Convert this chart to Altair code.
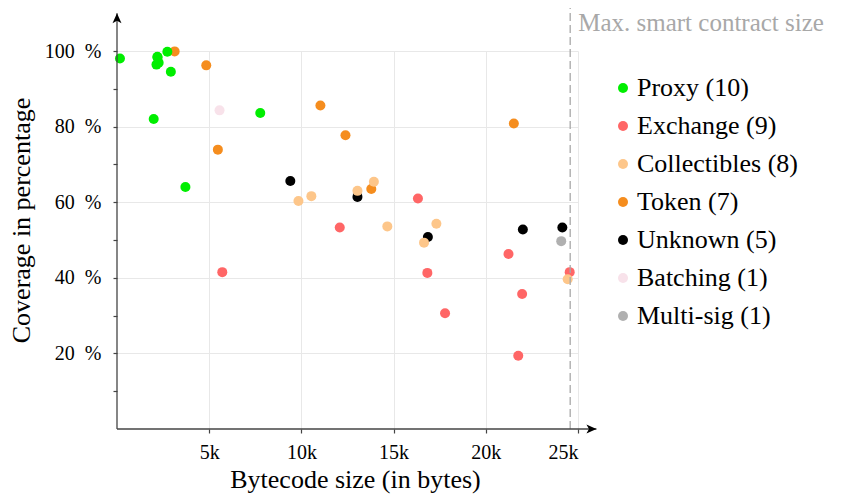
import altair as alt
import pandas as pd

# ---------------- data ----------------
categories = ["Proxy", "Exchange", "Collectibles", "Token", "Unknown", "Batching", "Multi-sig"]
colors = ["#00ee00", "#ff6666", "#fdc68a", "#f58d1e", "#000000", "#f8e2ea", "#b0b0b0"]

proxy_x = [160, 2190, 2140, 2260, 2200, 2730, 2920, 1990, 7770, 3710]
proxy_y = [98.0, 98.5, 96.4, 96.9, 98.3, 99.8, 94.5, 82.0, 83.6, 64.0]
exchange_x = [5710, 12080, 16320, 16830, 17790, 21230, 21970, 21760, 24550]
exchange_y = [41.5, 53.3, 61.0, 41.3, 30.6, 46.3, 35.7, 19.4, 41.5]
collectibles_x = [9840, 10540, 13040, 13930, 14660, 17320, 16650, 24440]
collectibles_y = [60.3, 61.6, 63.0, 65.4, 53.6, 54.3, 49.3, 39.6]
token_x = [3125, 4840, 5470, 13790, 11030, 12390, 21520]
token_y = [99.9, 96.2, 73.9, 63.5, 85.6, 77.7, 80.8]
unknown_x = [9400, 13040, 16860, 22010, 24150]
unknown_y = [65.6, 61.4, 50.8, 52.8, 53.3]
batching_x = [5560]
batching_y = [84.3]
multisig_x = [24090]
multisig_y = [49.7]

x_ticks = [5000, 10000, 15000, 20000, 25000]
y_ticks = [10, 20, 30, 40, 50, 60, 70, 80, 90, 100]
max_size = 24576            # max. smart contract size (bytes)
max_label = "Max. smart contract size"
x_axis_end = 26000
y_axis_end = 110
y_line_top = 111.5
label_y = 105.4

series = {
    "Proxy": (proxy_x, proxy_y),
    "Exchange": (exchange_x, exchange_y),
    "Collectibles": (collectibles_x, collectibles_y),
    "Token": (token_x, token_y),
    "Unknown": (unknown_x, unknown_y),
    "Batching": (batching_x, batching_y),
    "Multi-sig": (multisig_x, multisig_y),
}
labels = [f"{c} ({len(series[c][0])})" for c in categories]
draw_order = ["Token", "Exchange", "Unknown", "Collectibles", "Batching", "Multi-sig", "Proxy"]

rows = []
for c in draw_order:
    xs, ys = series[c]
    lab = labels[categories.index(c)]
    for xv, yv in zip(xs, ys):
        rows.append({"x": xv, "y": yv, "cat": lab})
df = pd.DataFrame(rows)

FONT = "Liberation Serif"
xscale = alt.Scale(domain=[0, 25000], nice=False, zero=False)
yscale = alt.Scale(domain=[0, 100], nice=False, zero=False)

xaxis = alt.Axis(
    values=x_ticks, labelExpr="(datum.value/1000) + 'k'",
    grid=True, gridColor="#e8e8e8", gridWidth=1, domain=False,
    ticks=True, tickSize=4, tickColor="#444444", tickWidth=1.2,
    labelFont=FONT, labelFontSize=20, labelColor="black", labelPadding=9,
    title="Bytecode size (in bytes)", titleFont=FONT, titleFontSize=26,
    titleFontWeight="normal", titleColor="black", titleX=238, titleY=37,
    titleAlign="center", titleBaseline="top")
yaxis = alt.Axis(
    values=y_ticks,
    labelExpr="datum.value % 20 == 0 ? datum.value + '\u2002%' : ''",
    grid=True, gridColor="#e8e8e8", gridWidth=1,
    gridOpacity={"condition": {"test": "datum.value % 20 == 0", "value": 1}, "value": 0},
    domain=False, ticks=True, tickSize=4, tickColor="#444444", tickWidth=1.2,
    labelFont=FONT, labelFontSize=20, labelColor="black", labelPadding=12,
    title="Coverage in percentage", titleFont=FONT, titleFontSize=26,
    titleFontWeight="normal", titleColor="black", titleX=-88, titleY=169,
    titleAngle=270, titleAlign="center", titleBaseline="alphabetic")

points = alt.Chart(df).mark_circle(size=100, opacity=1).encode(
    x=alt.X("x:Q", scale=xscale, axis=xaxis),
    y=alt.Y("y:Q", scale=yscale, axis=yaxis),
    color=alt.Color("cat:N", scale=alt.Scale(domain=labels, range=colors),
                    legend=alt.Legend(title=None, orient="none", legendX=493, legendY=24,
                                      padding=0, rowPadding=12, labelOffset=1, labelLimit=400,
                                      symbolType="circle", symbolSize=100, symbolOpacity=1,
                                      symbolStrokeWidth=0, labelFont=FONT, labelFontSize=26,
                                      labelColor="black")),
)

axis_df = pd.DataFrame({"x": [0], "x1": [x_axis_end], "y": [0], "y1": [y_axis_end],
                        "ml": [max_size], "mt": [y_line_top], "ly": [label_y], "txt": [max_label]})

x_line = alt.Chart(axis_df).mark_rule(color="#444444", strokeWidth=1.3).encode(
    x=alt.X("x:Q", scale=xscale, axis=xaxis), x2="x1:Q",
    y=alt.Y("y:Q", scale=yscale, axis=yaxis))
y_line = alt.Chart(axis_df).mark_rule(color="#444444", strokeWidth=1.3).encode(
    x=alt.X("x:Q", scale=xscale, axis=xaxis),
    y=alt.Y("y:Q", scale=yscale, axis=yaxis), y2="y1:Q")
x_arrow = alt.Chart(axis_df).mark_point(
    shape="M 0 0 L -1 -0.45 L -0.75 0 L -1 0.45 Z", size=400, filled=True,
    color="black", opacity=1, strokeWidth=0).encode(
    x=alt.X("x1:Q", scale=xscale, axis=xaxis), y=alt.Y("y:Q", scale=yscale, axis=yaxis))
y_arrow = alt.Chart(axis_df).mark_point(
    shape="M 0 0 L -0.45 1 L 0 0.75 L 0.45 1 Z", size=400, filled=True,
    color="black", opacity=1, strokeWidth=0).encode(
    x=alt.X("x:Q", scale=xscale, axis=xaxis), y=alt.Y("y1:Q", scale=yscale, axis=yaxis))
max_line = alt.Chart(axis_df).mark_rule(color="#a8a8a8", strokeWidth=1.3, strokeDash=[8, 4]).encode(
    x=alt.X("ml:Q", scale=xscale, axis=xaxis),
    y=alt.Y("y:Q", scale=yscale, axis=yaxis), y2="mt:Q")
max_text = alt.Chart(axis_df).mark_text(
    align="left", baseline="alphabetic", dx=8, font=FONT, fontSize=25, color="#a8a8a8").encode(
    x=alt.X("ml:Q", scale=xscale, axis=xaxis), y=alt.Y("ly:Q", scale=yscale, axis=yaxis),
    text="txt:N")

chart = alt.layer(points, max_line, x_line, y_line, x_arrow, y_arrow, max_text).properties(
    width=461, height=378,
    background="white",
    autosize=alt.AutoSizeParams(type="none"),
    padding={"left": 109, "top": 43, "right": 262, "bottom": 66},
).configure_view(stroke=None)

chart.save("out.html", embed_options={"renderer": "svg", "actions": False})
